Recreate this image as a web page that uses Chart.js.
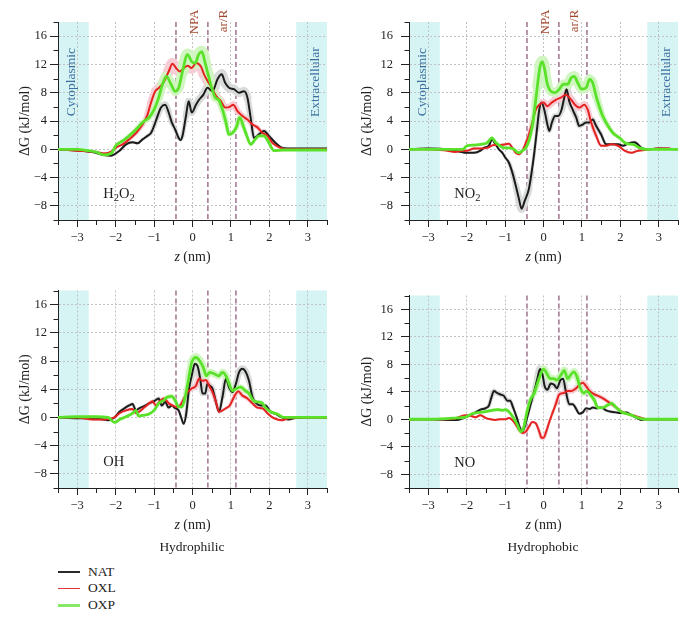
<!DOCTYPE html>
<html>
<head>
<meta charset="utf-8">
<script src="https://cdn.jsdelivr.net/npm/chart.js@4.4.1/dist/chart.umd.min.js"></script>
<style>
html,body{margin:0;padding:0;background:#fff;}
body{width:687px;height:617px;position:relative;overflow:hidden;font-family:"Liberation Serif","DejaVu Serif",serif;color:#222;}
canvas{position:absolute;}
.cap{position:absolute;font-size:13.5px;line-height:16px;transform:translateX(-50%);white-space:nowrap;}
.legtxt{position:absolute;left:88px;font-size:13.5px;line-height:16px;}
.legline{position:absolute;left:58px;width:22px;}
</style>
</head>
<body>
<canvas id="cA" width="343" height="280" style="left:0;top:0"></canvas>
<canvas id="cB" width="344" height="280" style="left:343px;top:0"></canvas>
<canvas id="cC" width="343" height="280" style="left:0;top:280px"></canvas>
<canvas id="cD" width="344" height="280" style="left:343px;top:280px"></canvas>
<div class="cap" style="left:192px;top:539px">Hydrophilic</div>
<div class="cap" style="left:543px;top:539px">Hydrophobic</div>
<div class="legline" style="top:571px;height:1.5px;background:#2a2a2a"></div>
<div class="legtxt" style="top:564px">NAT</div>
<div class="legline" style="top:587.5px;height:1.5px;background:#e0303a"></div>
<div class="legtxt" style="top:580px">OXL</div>
<div class="legline" style="top:604px;height:2.5px;background:#86e866"></div>
<div class="legtxt" style="top:597px">OXP</div>
<script>
// ---------- axes / annotation values ----------
const zRange = [-3.5, 3.5];
const gRange = [-10, 18];
const xTickValues = [-3, -2, -1, 0, 1, 2, 3];
const yTickValues = [-8, -4, 0, 4, 8, 12, 16];
const xMinorStep = 0.5;
const yMinorStep = 2;
const waterRegions = [[-3.5, -2.7], [2.7, 3.5]];
const channelMarks = [-0.43, 0.40, 1.13];
const seriesNames = ['NAT', 'OXL', 'OXP'];

// ---------- H2O2 ----------
const z_h2o2_nat = [-3.5,-3.2,-2.9,-2.6,-2.3,-2.12,-1.9,-1.73,-1.56,-1.43,-1.3,-1.17,-1.08,-1.0,-0.91,-0.82,-0.71,-0.62,-0.54,-0.45,-0.36,-0.31,-0.26,-0.17,-0.1,-0.02,0.09,0.17,0.28,0.39,0.52,0.65,0.76,0.85,0.95,1.08,1.21,1.34,1.43,1.52,1.6,1.73,1.86,1.99,2.16,2.34,2.6,3.0,3.5];
const g_h2o2_nat = [0,-0.1,-0.2,-0.4,-0.8,-0.9,-0.2,0.7,1.0,0.85,1.4,1.9,2.3,3.3,4.7,5.9,6.3,5.2,3.8,2.8,1.6,1.3,1.9,4.7,6.8,5.2,6.3,7.0,7.7,8.7,8.2,9.9,10.6,9.4,8.7,8.5,8.0,8.2,7.3,4.2,1.6,2.1,2.6,1.9,0.9,0.2,0.1,0.1,0.1];
const z_h2o2_oxl = [-3.5,-3.0,-2.7,-2.5,-2.3,-2.1,-2.0,-1.82,-1.65,-1.47,-1.3,-1.17,-1.08,-0.97,-0.87,-0.74,-0.62,-0.52,-0.43,-0.33,-0.22,-0.13,-0.02,0.09,0.22,0.3,0.42,0.52,0.62,0.74,0.85,0.97,1.06,1.17,1.3,1.43,1.56,1.69,1.82,1.95,2.08,2.25,2.42,3.0,3.5];
const g_h2o2_oxl = [0,-0.2,-0.3,-0.4,-0.6,-0.3,0.2,0.7,1.4,2.3,3.5,4.9,6.6,8.2,8.7,9.6,11.0,12.1,11.5,11.0,11.5,11.8,11.5,12.2,11.7,10.6,9.4,8.5,7.5,6.8,5.9,6.0,6.3,5.4,4.7,4.2,3.5,3.1,2.3,1.9,0.9,0.3,0,0,0];
const z_h2o2_oxp = [-3.5,-3.0,-2.7,-2.5,-2.3,-2.1,-2.0,-1.82,-1.65,-1.47,-1.3,-1.13,-1.0,-0.88,-0.78,-0.68,-0.56,-0.45,-0.36,-0.26,-0.13,-0.02,0.07,0.16,0.24,0.33,0.42,0.5,0.59,0.68,0.78,0.87,0.95,1.04,1.14,1.23,1.32,1.4,1.52,1.63,1.73,1.86,1.99,2.12,2.34,3.0,3.5];
const g_h2o2_oxp = [0,0,-0.2,-0.4,-0.8,-0.5,0.5,1.2,1.9,2.8,3.8,4.5,5.6,7.3,9.2,10.3,9.2,8.2,8.7,11.0,13.4,12.4,12.2,13.4,13.8,12.2,10.3,8.7,7.3,7.0,5.6,3.8,2.1,2.3,3.1,4.5,3.3,2.1,0.7,1.4,1.9,1.9,0.9,-0.2,-0.1,-0.1,-0.1];

// ---------- NO2 ----------
const z_no2_nat = [-3.5,-3.0,-2.5,-2.2,-1.99,-1.81,-1.64,-1.55,-1.42,-1.34,-1.25,-1.16,-1.07,-0.99,-0.9,-0.81,-0.72,-0.64,-0.57,-0.49,-0.38,-0.31,-0.24,-0.17,-0.11,-0.05,0.02,0.09,0.15,0.22,0.3,0.38,0.47,0.54,0.6,0.67,0.76,0.85,0.93,1.02,1.11,1.2,1.28,1.37,1.5,1.63,1.76,1.94,2.07,2.2,2.37,2.55,2.68,3.0,3.5];
const g_no2_nat = [0,0.1,0,-0.3,-0.5,-0.5,-0.2,0.2,0.5,1.4,0.7,0,-0.5,-1.2,-1.9,-3.3,-5.2,-7.0,-8.4,-7.3,-5.6,-3.3,-0.5,2.8,5.6,6.6,5.6,3.8,2.6,3.8,4.7,4.7,5.6,7.3,8.5,6.8,5.6,4.5,3.3,3.5,3.8,3.8,4.2,3.3,2.1,0.7,0.7,0.7,0.5,0.8,1.0,0.2,0,0.1,0];
const z_no2_oxl = [-3.5,-3.0,-2.7,-2.5,-2.3,-2.1,-1.99,-1.81,-1.64,-1.47,-1.29,-1.12,-0.99,-0.9,-0.81,-0.72,-0.64,-0.55,-0.46,-0.38,-0.29,-0.2,-0.11,0,0.1,0.21,0.32,0.45,0.58,0.72,0.82,0.93,1.06,1.15,1.24,1.37,1.5,1.63,1.76,1.94,2.11,2.29,2.46,2.64,3.0,3.3];
const g_no2_oxl = [0,0,-0.1,-0.2,-0.4,-0.2,-0.2,0.1,0.1,0.2,0.6,0.6,0.7,0.8,0.2,-0.5,-0.7,-0.2,0.9,2.1,3.8,5.6,6.3,6.6,6.1,6.6,7.0,7.3,7.7,7.0,6.3,5.9,6.3,5.6,3.8,1.9,0.5,0.5,0.7,0.5,-0.2,-0.5,-0.2,-0.1,0.1,0.1];
const z_no2_oxp = [-3.5,-3.0,-2.5,-2.1,-1.99,-1.81,-1.64,-1.47,-1.34,-1.25,-1.16,-1.03,-0.9,-0.77,-0.64,-0.55,-0.46,-0.38,-0.29,-0.22,-0.16,-0.09,-0.03,0.03,0.1,0.19,0.3,0.41,0.52,0.63,0.72,0.8,0.89,0.99,1.11,1.2,1.28,1.37,1.46,1.54,1.68,1.81,1.98,2.16,2.33,2.5,2.68,3.0,3.5];
const g_no2_oxp = [0,0,0,0,0.5,0.6,0.7,0.9,1.6,1.0,0.6,0.2,0.2,0,-0.5,-0.2,0.2,1.2,3.3,6.1,8.9,11.7,12.4,11.3,9.2,8.2,8.0,8.5,9.2,9.2,10.1,10.3,9.4,8.5,8.7,9.9,9.4,7.5,5.9,4.7,3.3,2.3,1.6,0.8,0.7,0.2,0,0,0];

// ---------- OH ----------
const z_oh_nat = [-3.5,-3.0,-2.6,-2.3,-2.21,-2.03,-1.9,-1.77,-1.65,-1.56,-1.47,-1.39,-1.26,-1.13,-1.0,-0.88,-0.8,-0.71,-0.62,-0.54,-0.45,-0.36,-0.3,-0.23,-0.17,-0.09,-0.02,0.06,0.13,0.2,0.26,0.33,0.39,0.45,0.52,0.61,0.69,0.78,0.87,0.95,1.04,1.13,1.21,1.3,1.39,1.47,1.56,1.66,1.77,1.9,2.03,2.16,2.34,2.51,2.64,3.0,3.5];
const g_oh_nat = [0,-0.1,-0.1,-0.3,-0.4,0,0.8,1.3,1.7,1.9,1.0,1.3,1.6,2.0,2.3,2.7,1.7,2.2,1.4,1.7,1.3,1.0,0.1,-0.9,0.3,4.1,5.9,7.6,7.3,5.5,3.4,3.4,4.8,4.5,4.1,2.2,0.8,2.9,5.5,4.3,3.6,4.8,6.4,6.9,6.4,5.2,2.9,2.0,1.7,1.7,0.8,0.5,0,-0.3,-0.1,0,0];
const z_oh_oxl = [-3.5,-3.0,-2.6,-2.3,-2.03,-1.9,-1.73,-1.56,-1.47,-1.39,-1.26,-1.13,-1.04,-0.95,-0.85,-0.74,-0.62,-0.52,-0.42,-0.32,-0.22,-0.13,-0.02,0.09,0.17,0.26,0.35,0.43,0.52,0.61,0.69,0.78,0.87,0.97,1.08,1.19,1.3,1.43,1.56,1.69,1.82,1.95,2.08,2.21,2.34,2.51,3.0,3.5];
const g_oh_oxl = [0,0,-0.3,-0.3,0,0.6,1.0,1.2,0.6,0.8,1.4,2.0,2.3,1.7,2.3,2.7,2.0,1.7,1.5,1.7,2.7,3.6,4.1,4.5,5.5,5.2,5.3,4.5,3.6,2.2,0.8,1.0,1.3,1.7,2.9,3.7,3.1,2.7,2.0,1.4,1.3,0.6,0,-0.3,-0.4,-0.1,0,0];
const z_oh_oxp = [-3.5,-3.0,-2.5,-2.2,-2.03,-1.9,-1.73,-1.56,-1.47,-1.4,-1.3,-1.13,-1.0,-0.88,-0.76,-0.65,-0.54,-0.45,-0.36,-0.28,-0.19,-0.1,-0.02,0.09,0.19,0.28,0.36,0.45,0.56,0.68,0.78,0.87,0.95,1.04,1.14,1.26,1.37,1.47,1.58,1.69,1.8,1.9,2.03,2.21,2.38,2.55,3.0,3.5];
const g_oh_oxp = [0,0.1,0.1,0,-0.7,-0.3,0.1,0.6,1.0,0.2,0.3,0.5,1.0,2.0,2.4,2.9,3.0,2.4,1.5,1.5,2.9,5.5,7.8,8.5,8.0,7.1,5.9,6.4,6.2,5.9,6.4,5.9,4.8,3.8,4.1,4.3,3.8,3.4,2.4,2.2,2.1,1.4,0.8,0.5,0,0,0,0];

// ---------- NO ----------
const z_no_nat = [-3.5,-3.0,-2.5,-2.25,-2.03,-1.9,-1.77,-1.64,-1.51,-1.42,-1.36,-1.29,-1.2,-1.12,-1.03,-0.94,-0.87,-0.79,-0.7,-0.61,-0.55,-0.49,-0.4,-0.31,-0.23,-0.16,-0.09,-0.03,0.03,0.1,0.19,0.28,0.35,0.44,0.51,0.58,0.67,0.76,0.85,0.93,1.02,1.11,1.2,1.28,1.37,1.5,1.63,1.76,1.89,2.02,2.16,2.29,2.42,2.55,2.68,3.0,3.5];
const g_no_nat = [0,0,-0.1,-0.1,0.3,0.6,1.0,1.4,1.6,2.0,3.1,4.1,3.8,3.6,3.4,2.7,2.7,1.7,0.3,-1.3,-1.8,-1.1,0.8,2.7,4.3,5.9,7.3,6.6,4.8,4.3,5.2,5.0,4.5,5.7,5.9,4.1,2.2,2.2,1.5,0.8,1.0,1.6,1.5,1.7,1.6,1.7,1.3,1.1,1.0,0.9,1.0,0.6,0.2,-0.1,0,0,0];
const z_no_oxl = [-3.5,-3.0,-2.5,-2.3,-2.03,-1.9,-1.77,-1.64,-1.51,-1.38,-1.25,-1.12,-0.99,-0.9,-0.81,-0.72,-0.64,-0.55,-0.46,-0.38,-0.29,-0.2,-0.11,-0.05,0,0.07,0.15,0.24,0.32,0.41,0.52,0.63,0.73,0.85,0.93,1.02,1.11,1.2,1.33,1.46,1.59,1.72,1.85,1.98,2.11,2.24,2.37,2.55,2.68,3.0,3.5];
const g_no_oxl = [0,0,0,0.1,0.6,0.5,0.3,0.6,0.2,0,-0.1,0,0,0.2,-0.1,-0.8,-1.5,-2.0,-1.8,-1.1,-0.4,-0.6,-1.8,-2.7,-2.7,-1.8,-0.4,1.0,2.2,3.6,3.8,4.1,4.1,4.5,5.0,5.3,4.8,4.1,3.6,3.3,2.9,2.4,1.9,1.3,0.9,0.7,0.5,0.2,0,0,0];
const z_no_oxp = [-3.5,-3.0,-2.5,-2.25,-2.03,-1.86,-1.68,-1.51,-1.34,-1.2,-1.07,-0.99,-0.9,-0.79,-0.68,-0.59,-0.52,-0.44,-0.35,-0.24,-0.16,-0.07,0,0.09,0.17,0.26,0.35,0.45,0.54,0.63,0.7,0.79,0.87,0.96,1.05,1.13,1.22,1.33,1.41,1.54,1.68,1.78,1.89,2.02,2.16,2.29,2.46,2.64,3.0,3.5];
const g_no_oxp = [0,0,0.1,0.2,0.3,0.8,1.0,1.1,1.3,1.4,1.3,1.4,1.1,0.3,-0.8,-1.8,-1.3,0.8,2.7,3.8,5.2,6.6,7.3,6.6,5.9,5.9,5.7,6.4,7.1,5.9,6.4,6.9,6.2,4.5,3.8,4.1,3.6,2.7,1.7,1.7,2.1,2.3,1.7,1.1,0.8,0.6,0.2,0,0,0];

// ---------- styling ----------
const SERIF = '"Liberation Serif", "DejaVu Serif", serif';
const lineColors = {NAT:'#1b1b1b', OXL:'#e42320', OXP:'#5ae22a'};
const bandColors = {NAT:'#d8dbda', OXL:'#f6cdd5', OXP:'#d0f5c1'};
const lineWidths = {NAT:2, OXL:2, OXP:2.8};

function pts(z, g){ return z.map((v,i)=>({x:v, y:g[i]})); }
function fmt(v){ return v < 0 ? '\u2212' + Math.abs(v) : String(v); }

const deco = {
  id: 'deco',
  beforeDraw(chart, args, o){
    const {ctx, chartArea:a, scales:{x}} = chart;
    ctx.save();
    ctx.fillStyle = '#d6f4f4';
    waterRegions.forEach(([l,r])=>{
      const x1 = x.getPixelForValue(l), x2 = x.getPixelForValue(r);
      ctx.fillRect(x1, a.top, x2-x1, a.bottom-a.top);
    });
    ctx.restore();
  },
  beforeDatasetsDraw(chart){
    const {ctx, chartArea:a, scales:{x}} = chart;
    ctx.save();
    ctx.strokeStyle = '#a77b96';
    ctx.lineWidth = 1.6;
    ctx.setLineDash([5,3]);
    channelMarks.forEach(v=>{
      const px = x.getPixelForValue(v);
      ctx.beginPath(); ctx.moveTo(px, a.top); ctx.lineTo(px, a.bottom); ctx.stroke();
    });
    ctx.restore();
  },
  afterDraw(chart, args, o){
    const {ctx, chartArea:a, scales:{x,y}} = chart;
    ctx.save();
    ctx.strokeStyle = '#222'; ctx.lineWidth = 1;
    const by = Math.round(a.bottom) + 0.5;
    for (let v = zRange[0]; v <= zRange[1] + 1e-9; v += xMinorStep){
      if (xTickValues.some(t=>Math.abs(t-v)<1e-6)) continue;
      const px = Math.round(x.getPixelForValue(v)) + 0.5;
      ctx.beginPath(); ctx.moveTo(px, by); ctx.lineTo(px, by + 4.5); ctx.stroke();
    }
    const lx = Math.round(a.left) + 0.5;
    for (let v = gRange[0]; v <= gRange[1] + 1e-9; v += yMinorStep){
      if (yTickValues.some(t=>Math.abs(t-v)<1e-6)) continue;
      const py = Math.round(y.getPixelForValue(v)) + 0.5;
      ctx.beginPath(); ctx.moveTo(lx - 5, py); ctx.lineTo(lx, py); ctx.stroke();
    }
    ctx.fillStyle = '#222';
    ctx.textBaseline = 'middle';
    ctx.textAlign = 'left';
    const f1 = 'italic 14px ' + SERIF, f2 = '14px ' + SERIF;
    ctx.font = f1; const w1 = ctx.measureText('z').width;
    ctx.font = f2; const w2 = ctx.measureText(' (nm)').width;
    const cx = (a.left + a.right) / 2 - (w1 + w2) / 2;
    ctx.font = f1; ctx.fillText('z', cx, o.xTitleY);
    ctx.font = f2; ctx.fillText(' (nm)', cx + w1, o.xTitleY);
    let mx = x.getPixelForValue(-2.32);
    const my = y.getPixelForValue(-6.4);
    o.mol.forEach(p=>{
      ctx.font = (p.sub ? '10.5px ' : '14.5px ') + SERIF;
      ctx.fillText(p.t, mx, my + (p.sub ? 3.5 : 0));
      mx += ctx.measureText(p.t).width;
    });
    if (o.showTop){
      const rot = (t, px, py, color, size)=>{
        ctx.save(); ctx.translate(px, py); ctx.rotate(-Math.PI/2);
        ctx.font = size + 'px ' + SERIF; ctx.fillStyle = color;
        ctx.textAlign = 'center'; ctx.textBaseline = 'middle';
        ctx.fillText(t, 0, 0); ctx.restore();
      };
      const ry = y.getPixelForValue(9.5);
      rot('Cytoplasmic', x.getPixelForValue(-3.15), ry, '#3c6e9f', 13.5);
      rot('Extracellular', x.getPixelForValue(3.2), ry, '#3c6e9f', 13.5);
      rot('NPA', x.getPixelForValue(0.05), a.top, '#a3472e', 13);
      rot('ar/R', x.getPixelForValue(0.8), a.top - 1, '#a3472e', 13);
    }
    ctx.restore();
  }
};

function makeChart(id, cfg){
  const {w, h, area, tickPad, yTitlePad, xTitleY, mol, showTop, data} = cfg;
  const datasets = [];
  seriesNames.forEach((n, i)=>{
    datasets.push({
      label: n + ' band', data: data[i], borderColor: bandColors[n],
      borderCapStyle: 'round', borderJoinStyle: 'round', pointRadius: 0,
      cubicInterpolationMode: 'monotone', order: 10 + (3 - i),
      segment: { borderWidth: c => 2 + Math.min(10, 0.4 * (Math.abs(c.p0.parsed.y) + Math.abs(c.p1.parsed.y))) }
    });
  });
  seriesNames.forEach((n, i)=>{
    datasets.push({
      label: n, data: data[i], borderColor: lineColors[n], borderWidth: lineWidths[n],
      borderJoinStyle: 'round', pointRadius: 0, cubicInterpolationMode: 'monotone', order: 3 - i
    });
  });
  const tickFont = {family: SERIF, size: 12.5};
  new Chart(document.getElementById(id), {
    type: 'line',
    data: {datasets},
    options: {
      responsive: false, animation: false, events: [],
      layout: {autoPadding: false, padding: {left: 0, right: w - area.right, top: area.top, bottom: 0}},
      plugins: {legend: {display: false}, tooltip: {enabled: false}, deco: {xTitleY, mol, showTop}},
      scales: {
        x: {
          type: 'linear', min: zRange[0], max: zRange[1],
          afterBuildTicks: s => { s.ticks = xTickValues.map(v => ({value: v})); },
          afterFit: s => { s.height = h - area.bottom; },
          ticks: {callback: fmt, font: tickFont, color: '#222', padding: 3, maxRotation: 0, autoSkip: false},
          grid: {color: '#c2c2c2', lineWidth: 1, tickLength: 7, tickColor: '#222', tickWidth: 1, tickBorderDash: []},
          border: {display: true, color: '#222', width: 1, dash: [2, 2]}
        },
        y: {
          type: 'linear', min: gRange[0], max: gRange[1],
          afterBuildTicks: s => { s.ticks = yTickValues.map(v => ({value: v})); },
          afterFit: s => { s.width = area.left; },
          ticks: {callback: fmt, font: tickFont, color: '#222', padding: tickPad, autoSkip: false},
          grid: {color: '#c2c2c2', lineWidth: 1, tickLength: 8, tickColor: '#222', tickWidth: 1, tickBorderDash: []},
          border: {display: true, color: '#222', width: 1, dash: [2, 2]},
          title: {display: true, text: '\u0394G (kJ/mol)', font: {family: SERIF, size: 14}, color: '#222', padding: {top: yTitlePad, bottom: 0}}
        }
      }
    },
    plugins: [deco]
  });
}

makeChart('cA', {w: 343, h: 280, area: {left: 58, right: 327, top: 22, bottom: 220}, tickPad: 3, yTitlePad: 16.5, xTitleY: 257,
  mol: [{t:'H'},{t:'2',sub:true},{t:'O'},{t:'2',sub:true}], showTop: true,
  data: [pts(z_h2o2_nat, g_h2o2_nat), pts(z_h2o2_oxl, g_h2o2_oxl), pts(z_h2o2_oxp, g_h2o2_oxp)]});
makeChart('cB', {w: 344, h: 280, area: {left: 66, right: 335, top: 22, bottom: 220}, tickPad: 8, yTitlePad: 15.5, xTitleY: 257,
  mol: [{t:'NO'},{t:'2',sub:true}], showTop: true,
  data: [pts(z_no2_nat, g_no2_nat), pts(z_no2_oxl, g_no2_oxl), pts(z_no2_oxp, g_no2_oxp)]});
makeChart('cC', {w: 343, h: 280, area: {left: 58, right: 327, top: 9, bottom: 208}, tickPad: 3, yTitlePad: 16.5, xTitleY: 245,
  mol: [{t:'OH'}], showTop: false,
  data: [pts(z_oh_nat, g_oh_nat), pts(z_oh_oxl, g_oh_oxl), pts(z_oh_oxp, g_oh_oxp)]});
makeChart('cD', {w: 344, h: 280, area: {left: 66, right: 335, top: 9, bottom: 208}, tickPad: 8, yTitlePad: 15.5, xTitleY: 245,
  mol: [{t:'NO'}], showTop: false,
  data: [pts(z_no_nat, g_no_nat), pts(z_no_oxl, g_no_oxl), pts(z_no_oxp, g_no_oxp)]});
</script>
</body>
</html>
